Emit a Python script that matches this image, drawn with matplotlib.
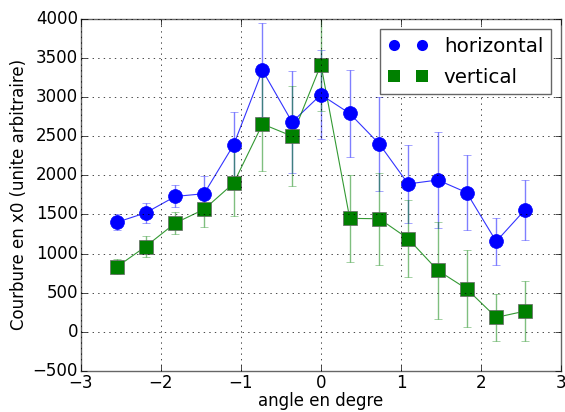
import numpy as np
import matplotlib
matplotlib.use('Agg')
import matplotlib.pyplot as plt

plt.style.use('classic')

# --- donnees ---
angles = [-2.55, -2.19, -1.82, -1.46, -1.09, -0.73, -0.36, 0.0,
          0.36, 0.73, 1.09, 1.46, 1.82, 2.19, 2.55]
courbure_h = [1400, 1520, 1730, 1765, 2390, 3340, 2680, 3030,
              2790, 2400, 1890, 1940, 1780, 1155, 1560]
err_h = [105, 130, 140, 230, 425, 600, 650, 570,
         555, 595, 495, 615, 480, 300, 385]
courbure_v = [830, 1090, 1390, 1565, 1900, 2655, 2500, 3415,
              1450, 1445, 1190, 785, 550, 185, 265]
err_v = [95, 130, 140, 230, 420, 600, 640, 590,
         560, 590, 490, 615, 490, 305, 385]

fig = plt.figure(figsize=(5.65, 4.12), dpi=100, facecolor='white')
ax = fig.add_axes([0.143, 0.0995, 0.850, 0.855])

ax.errorbar(angles, courbure_h, yerr=err_h, fmt='none', ecolor='b', alpha=0.5, capsize=3)
ax.errorbar(angles, courbure_v, yerr=err_v, fmt='none', ecolor='g', alpha=0.5, capsize=3)
ax.plot(angles, courbure_h, 'b-', lw=0.8, alpha=0.8)
ax.plot(angles, courbure_v, 'g-', lw=0.8, alpha=0.8)
ax.plot(angles, courbure_h, 'bo', ms=10, mec='b', ls='none', label='horizontal')
ax.plot(angles, courbure_v, 'gs', ms=10, mec='0.4', mew=0.5, ls='none', label='vertical')

ax.set_xlim(-3, 3)
ax.set_ylim(-500, 4000)
ax.set_yticks(np.arange(-500, 4001, 500))
ax.tick_params(labelsize=12, pad=2)
for sp in ax.spines.values():
    sp.set_color('0.4')
ax.grid(True)
ax.set_xlabel('angle en degre', fontsize=12, labelpad=0)
ax.set_ylabel('Courbure en x0 (unite arbitraire)', fontsize=12, labelpad=3)
leg = ax.legend(loc='upper right', numpoints=2, fontsize=14.3, markerscale=0.8,
                labelspacing=0.6)
leg.get_frame().set_edgecolor('0.4')
for h in leg.legend_handles:
    h.set_markeredgewidth(0)

fig.savefig('out.png', dpi=100, facecolor='white')
